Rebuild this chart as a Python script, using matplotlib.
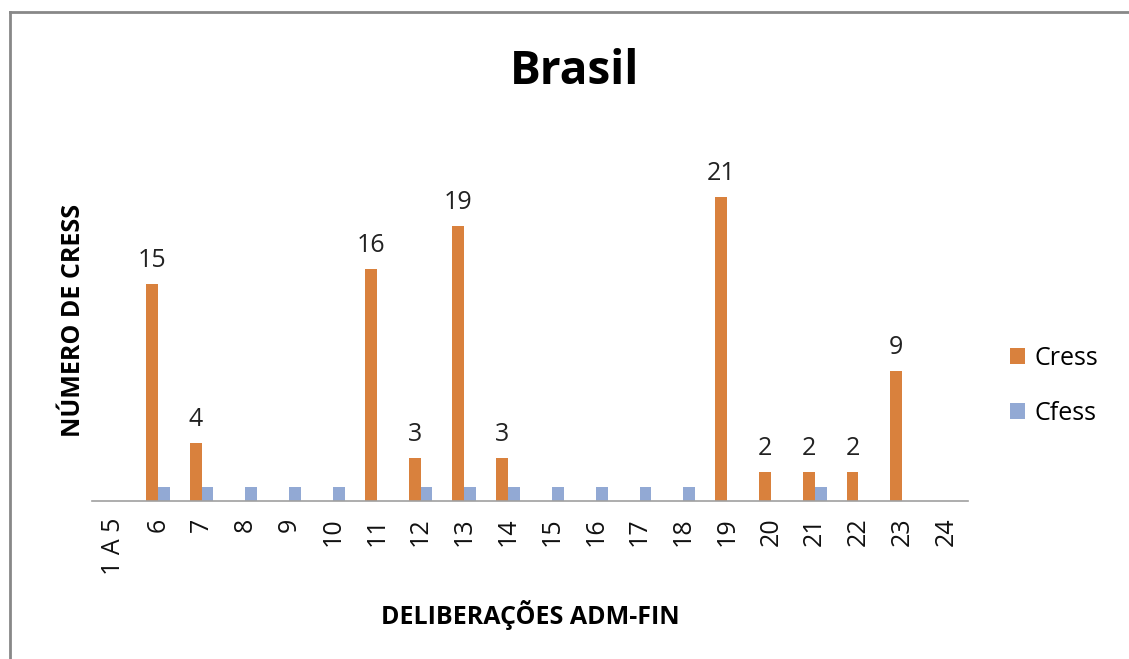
import matplotlib
matplotlib.use("Agg")
import matplotlib.pyplot as plt
import numpy as np
from matplotlib.lines import Line2D

categories = ["1 A 5", "6", "7", "8", "9", "10", "11", "12", "13", "14", "15",
              "16", "17", "18", "19", "20", "21", "22", "23", "24"]
cress = [0, 15, 4, 0, 0, 0, 16, 3, 19, 3, 0, 0, 0, 0, 21, 2, 2, 2, 9, 0]
cfess = [0, 1, 1, 1, 1, 1, 0, 1, 1, 1, 1, 1, 1, 1, 0, 0, 1, 0, 0, 0]

plt.rcParams['font.family'] = ['Open Sans', 'DejaVu Sans']

orange = '#D9813D'
blue = '#92A9D4'

fig = plt.figure(figsize=(11.29, 6.59), dpi=100)
ax = fig.add_axes([92/1129, 1 - 501/659, (968-92)/1129, (501-139)/659])

x = np.arange(len(categories))
w = 0.27
b1 = ax.bar(x - w/2, cress, w, color=orange, label='Cress')
b2 = ax.bar(x + w/2, cfess, w, color=blue, label='Cfess')

for xi, v in zip(x, cress):
    if v > 0:
        ax.annotate(str(v), (xi - w/2, v), xytext=(0, 11), textcoords='offset pixels',
                    ha='center', va='bottom', fontsize=18, color='#222222')

ax.set_xlim(-0.5, len(categories) - 0.5)
ax.set_ylim(0, 25)
ax.set_yticks([])
ax.set_xticks(x)
ax.set_xticklabels(categories, rotation=90, fontsize=18, color='#111111')
ax.tick_params(axis='x', length=0, pad=12)
for s in ['top', 'right', 'left']:
    ax.spines[s].set_visible(False)
ax.spines['bottom'].set_color('#A0A0A0')
ax.spines['bottom'].set_linewidth(1.2)

ax.set_xlabel('DELIBERAÇÕES ADM-FIN', fontsize=18, fontweight='bold', labelpad=18)
ax.set_ylabel('NÚMERO DE CRESS', fontsize=18, fontweight='bold', labelpad=4)

fig.text(575/1129, 1 - 72/659, 'Brasil', ha='center', va='center',
         fontsize=33, fontweight='bold')

fig.legend(handles=[b1, b2], labels=['Cress', 'Cfess'],
           loc='center left', bbox_to_anchor=(1010/1129, 1 - 386/659),
           frameon=False, fontsize=18, handlelength=0.6, handleheight=0.6,
           labelspacing=1.2, handletextpad=0.4, borderpad=0, borderaxespad=0)

fig.add_artist(Line2D([10/1129, 10/1129], [0, 1 - 12/659], transform=fig.transFigure,
                      color='#888888', lw=2))
fig.add_artist(Line2D([10/1129, 1], [1 - 12/659, 1 - 12/659], transform=fig.transFigure,
                      color='#888888', lw=2))

fig.savefig('out.png', dpi=100)
